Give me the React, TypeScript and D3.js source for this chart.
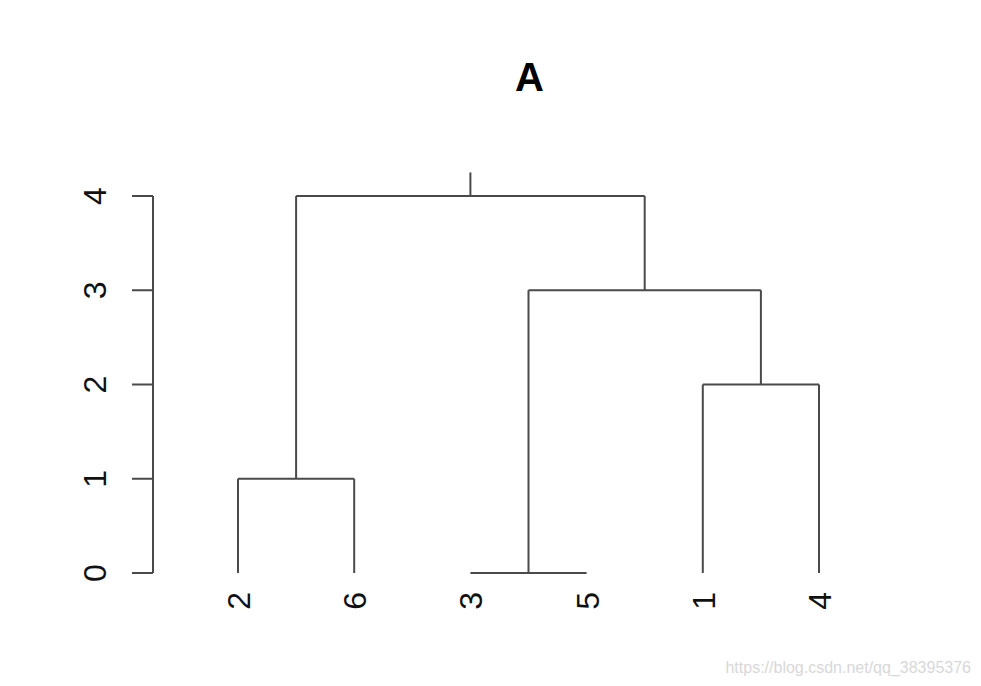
import { useEffect, useRef } from "react";
import * as d3 from "d3";

// hclust-style merge matrix: negative = observation, positive = earlier step
const MERGE: [number, number][] = [
  [-3, -5],
  [-2, -6],
  [-1, -4],
  [1, 3],
  [2, 4],
];
const HEIGHTS = [0, 1, 2, 3, 4];
const ORDER = [2, 6, 3, 5, 1, 4];
const Y_TICKS = [0, 1, 2, 3, 4];
const TITLE = "A";

const W = 981;
const H = 686;
const LINE = "#4a4a4a";

export default function App() {
  const svgRef = useRef<SVGSVGElement>(null);

  useEffect(() => {
    if (!svgRef.current) return;
    const svg = d3.select(svgRef.current);
    svg.selectAll("*").remove();

    const x = d3.scaleLinear().domain([1, ORDER.length]).range([238, 819]);
    const y = d3.scaleLinear().domain([0, 4]).range([573, 196]);

    const leafX = (obs: number) => x(ORDER.indexOf(obs) + 1);
    const nodeX: number[] = [];
    const pos = (c: number) => (c < 0 ? leafX(-c) : nodeX[c - 1]);
    const hgt = (c: number) => (c < 0 ? 0 : HEIGHTS[c - 1]);

    const g = svg.append("g").attr("stroke", LINE).attr("stroke-width", 2).attr("fill", "none");

    MERGE.forEach(([a, b], i) => {
      const xa = pos(a);
      const xb = pos(b);
      nodeX[i] = (xa + xb) / 2;
      const h = y(HEIGHTS[i]);
      g.append("line").attr("x1", xa).attr("x2", xa).attr("y1", y(hgt(a))).attr("y2", h);
      g.append("line").attr("x1", xb).attr("x2", xb).attr("y1", y(hgt(b))).attr("y2", h);
      g.append("line").attr("x1", xa).attr("x2", xb).attr("y1", h).attr("y2", h);
    });

    // stub above the root
    const rootX = nodeX[nodeX.length - 1];
    g.append("line")
      .attr("x1", rootX)
      .attr("x2", rootX)
      .attr("y1", y(HEIGHTS[HEIGHTS.length - 1]))
      .attr("y2", y(HEIGHTS[HEIGHTS.length - 1] + 0.25));

    // y axis
    const ax = 153;
    g.append("line").attr("x1", ax).attr("x2", ax).attr("y1", y(0)).attr("y2", y(4));
    Y_TICKS.forEach((t) => {
      g.append("line").attr("x1", ax - 21).attr("x2", ax).attr("y1", y(t)).attr("y2", y(t));
      svg
        .append("text")
        .attr("transform", `translate(106,${y(t)}) rotate(-90)`)
        .attr("text-anchor", "middle")
        .attr("font-family", "Liberation Sans, Arial, sans-serif")
        .attr("font-size", 32)
        .attr("fill", "#111")
        .text(String(t));
    });

    // leaf labels
    ORDER.forEach((obs, i) => {
      svg
        .append("text")
        .attr("transform", `translate(${x(i + 1) + 12},592) rotate(-90)`)
        .attr("text-anchor", "end")
        .attr("font-family", "Liberation Sans, Arial, sans-serif")
        .attr("font-size", 32)
        .attr("fill", "#111")
        .text(String(obs));
    });

    svg
      .append("text")
      .attr("x", 529.5)
      .attr("y", 91)
      .attr("text-anchor", "middle")
      .attr("font-family", "Liberation Sans, Arial, sans-serif")
      .attr("font-weight", "bold")
      .attr("font-size", 40)
      .attr("fill", "#000")
      .text(TITLE);

    svg
      .append("text")
      .attr("x", 971)
      .attr("y", 673)
      .attr("text-anchor", "end")
      .attr("font-family", "Liberation Sans, Arial, sans-serif")
      .attr("font-size", 16)
      .attr("fill", "#d8d8d8")
      .text("https://blog.csdn.net/qq_38395376");
  }, []);

  return (
    <svg
      ref={svgRef}
      width={W}
      height={H}
      style={{ position: "absolute", left: 0, top: 0, background: "#fff", display: "block" }}
    />
  );
}
